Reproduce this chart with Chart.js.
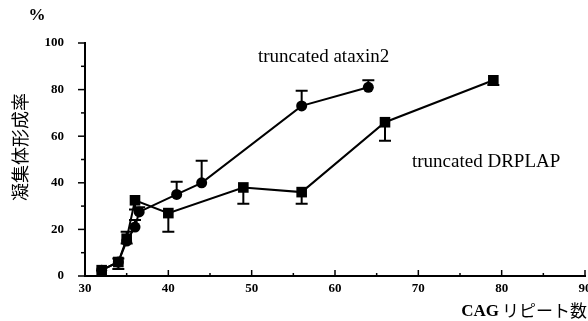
<!DOCTYPE html>
<html>
<head>
<meta charset="utf-8">
<script src="https://cdn.jsdelivr.net/npm/chart.js@4/dist/chart.umd.min.js"></script>
<style>
html,body{margin:0;padding:0;background:#fff;overflow:hidden;}
#wrap{width:600px;height:321px;position:relative;}
</style>
</head>
<body>
<div id="wrap"><canvas id="c" width="600" height="321"></canvas></div>
<script>
// ---- data ----
const ataxinX   = [32, 34, 35, 36, 36.5, 41, 44, 56, 64];
const ataxinY   = [2.5, 6, 15, 21, 27.5, 35, 40, 73, 81];
const ataxinErr = [0, 1.5, 4, 3, 2, 5.5, 9.5, 6.5, 3];   // drawn upward

const drplapX   = [32, 34, 35, 36, 40, 49, 56, 66, 79];
const drplapY   = [2.5, 6, 16, 32.5, 27, 38, 36, 66, 84];
const drplapErr = [0, 3, 2, 4, 8, 7, 5, 8, 2];            // drawn downward

const xTicks = [30, 40, 50, 60, 70, 80, 90];
const yTicks = [0, 20, 40, 60, 80, 100];

const seriesNames = ['truncated ataxin2', 'truncated DRPLAP'];
const yTitle = '凝集体形成率';
const xTitleLatin = 'CAG';
const xTitleJa = 'リピート数';
const unitLabel = '%';

function pts(xs, ys){ return xs.map((x,i)=>({x:x, y:ys[i]})); }

const errorBars = {
  id: 'errorBars',
  afterDatasetsDraw(chart){
    const ctx = chart.ctx, xs = chart.scales.x, ys = chart.scales.y;
    ctx.save();
    ctx.strokeStyle = '#000';
    ctx.lineWidth = 2;
    chart.data.datasets.forEach(ds=>{
      ds.data.forEach((p,i)=>{
        const e = ds.err[i];
        if(!e) return;
        const px = xs.getPixelForValue(p.x);
        const py = ys.getPixelForValue(p.y);
        const pe = ys.getPixelForValue(p.y + ds.errDir*e);
        ctx.beginPath();
        ctx.moveTo(px, py); ctx.lineTo(px, pe);
        ctx.moveTo(px-6, pe); ctx.lineTo(px+6, pe);
        ctx.stroke();
      });
    });
    ctx.restore();
  }
};

const decor = {
  id: 'decor',
  afterDraw(chart){
    const ctx = chart.ctx, xs = chart.scales.x, ys = chart.scales.y;
    const a = chart.chartArea;
    ctx.save();
    ctx.strokeStyle = '#000';
    ctx.lineWidth = 1.5;
    // y ticks (outward, major every 20, minor every 10)
    for(let v=0; v<=100; v+=10){
      const py = ys.getPixelForValue(v);
      const len = (v%20===0) ? 7 : 4;
      ctx.beginPath(); ctx.moveTo(a.left, py); ctx.lineTo(a.left-len, py); ctx.stroke();
    }
    // x ticks (inward, major every 10, minor every 5)
    for(let v=30; v<=90; v+=5){
      const px = xs.getPixelForValue(v);
      const len = (v%10===0) ? 6 : 3;
      ctx.beginPath(); ctx.moveTo(px, a.bottom); ctx.lineTo(px, a.bottom-len); ctx.stroke();
    }
    ctx.fillStyle = '#000';
    // unit
    ctx.font = 'bold 17px "Liberation Serif"';
    ctx.textAlign = 'center'; ctx.textBaseline = 'middle';
    ctx.fillText(unitLabel, 37, 16);
    // series labels
    ctx.font = '19px "Liberation Serif"';
    ctx.textAlign = 'left';
    ctx.fillText(seriesNames[0], 258, 57);
    ctx.fillText(seriesNames[1], 412, 162);
    // y title (vertical)
    ctx.save();
    ctx.translate(20, 147);
    ctx.rotate(-Math.PI/2);
    ctx.font = '18px "Noto Sans CJK JP"';
    ctx.textAlign = 'center';
    ctx.fillText(yTitle, 0, 0);
    ctx.restore();
    // x title
    ctx.textAlign = 'left';
    ctx.font = 'bold 17px "Liberation Serif"';
    const wL = ctx.measureText(xTitleLatin).width;
    ctx.font = '17px "Noto Sans CJK JP"';
    const wJ = ctx.measureText(xTitleJa).width;
    const x0 = 587 - wL - wJ - 3;
    ctx.font = 'bold 17px "Liberation Serif"';
    ctx.fillText(xTitleLatin, x0, 312);
    ctx.font = '17px "Noto Sans CJK JP"';
    ctx.fillText(xTitleJa, x0 + wL + 3, 311);
    ctx.restore();
  }
};

new Chart(document.getElementById('c'), {
  type: 'scatter',
  data: {
    datasets: [
      { label: seriesNames[0], data: pts(ataxinX, ataxinY), err: ataxinErr, errDir: 1,
        showLine: true, borderColor: '#000', backgroundColor: '#000', borderWidth: 2,
        pointStyle: 'circle', pointRadius: 5.5, pointBorderWidth: 0 },
      { label: seriesNames[1], data: pts(drplapX, drplapY), err: drplapErr, errDir: -1,
        showLine: true, borderColor: '#000', backgroundColor: '#000', borderWidth: 2,
        pointStyle: 'rect', pointRadius: 7.5, pointBorderWidth: 0 }
    ]
  },
  options: {
    responsive: false,
    animation: false,
    devicePixelRatio: 1,
    layout: { padding: { top: 43, right: 15, bottom: 0, left: 0 } },
    plugins: { legend: { display: false }, tooltip: { enabled: false } },
    scales: {
      x: {
        type: 'linear', min: 30, max: 90,
        afterBuildTicks(s){ s.ticks = xTicks.map(v=>({value:v})); },
        afterFit(s){ s.height = 45; },
        grid: { display: false, drawTicks: false },
        border: { display: true, color: '#000', width: 2 },
        ticks: { color: '#000', padding: 5, maxRotation: 0, autoSkip: false,
                 font: { family: '"Liberation Serif"', size: 13, weight: 'bold' } }
      },
      y: {
        type: 'linear', min: 0, max: 100,
        afterBuildTicks(s){ s.ticks = yTicks.map(v=>({value:v})); },
        afterFit(s){ s.width = 85; },
        grid: { display: false, drawTicks: false },
        border: { display: true, color: '#000', width: 2 },
        ticks: { color: '#000', padding: 21, autoSkip: false,
                 font: { family: '"Liberation Serif"', size: 13, weight: 'bold' } }
      }
    }
  },
  plugins: [errorBars, decor]
});
</script>
</body>
</html>
